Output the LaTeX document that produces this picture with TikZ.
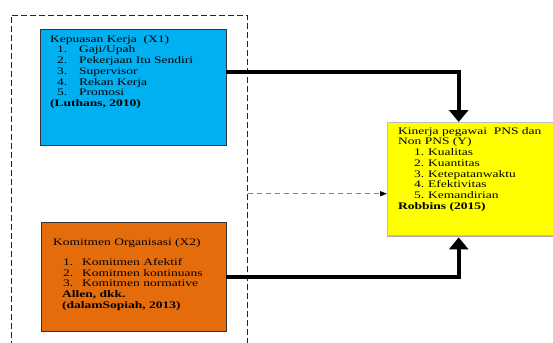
\documentclass[tikz,border=0pt]{standalone}
\usepackage{fontspec}
\setmainfont{Liberation Serif}[FakeStretch=1.35]
\usetikzlibrary{arrows.meta}

\definecolor{kotakbiru}{HTML}{00B0F0}
\definecolor{kotakoranye}{HTML}{E46C0A}
\definecolor{kotakkuning}{HTML}{FFFF00}
\definecolor{bayangan}{HTML}{BFA3AD}
\newcommand{\butir}[4]{\hspace*{#1}\makebox[#2][l]{#3}#4}

\begin{document}
\begin{tikzpicture}[x=1pt, y=-1pt,
  kotak/.style={draw, anchor=north west, inner sep=0pt},
  isi/.style={anchor=north west, inner sep=0pt, align=left, font=\fontsize{10}{10.75}\selectfont},
  panah/.style={line width=4pt, -{Triangle[width=19pt,length=12pt]}}]

\useasboundingbox (0,0) rectangle (553,342);

\node[kotak, dash pattern=on 6pt off 3pt, draw=black!85, line width=0.8pt, minimum width=236pt, minimum height=345pt] (bingkai) at (11,15) {};

\node[kotak, fill=kotakbiru, draw=black!80, minimum width=186pt, minimum height=116pt] (x1) at (40,29) {};
\node[isi] (x1isi) at ([shift={(10pt,-6pt)}]x1.north west) {Kepuasan Kerja \ (X1)\\
  \butir{7pt}{22pt}{1.}{Gaji/Upah}\\
  \butir{7pt}{22pt}{2.}{Pekerjaan Itu Sendiri}\\
  \butir{7pt}{22pt}{3.}{Supervisor}\\
  \butir{7pt}{22pt}{4.}{Rekan Kerja}\\
  \butir{7pt}{22pt}{5.}{Promosi}\\
  \textbf{(Luthans, 2010)}};

\node[kotak, fill=kotakoranye, draw=black!80, minimum width=185pt, minimum height=109pt] (x2) at (41,222) {};
\node[isi] (x2isi) at ([shift={(12pt,-16pt)}]x2.north west) {Komitmen Organisasi (X2)\\[9.5pt]
  \butir{10pt}{19pt}{1.}{Komitmen Afektif}\\
  \butir{10pt}{19pt}{2.}{Komitmen kontinuans}\\
  \butir{10pt}{19pt}{3.}{Komitmen normative}\\
  \hspace*{9pt}\textbf{Allen, dkk.}\\
  \hspace*{9pt}\textbf{(dalamSopiah, 2013)}};

\node[kotak, fill=kotakkuning, draw=black!25, minimum width=169pt, minimum height=113pt] (y) at (387,122) {};
\draw[bayangan, line width=1.5pt] ([yshift=-1pt]y.south west) -- ([yshift=-1pt]y.south east);
\node[isi] (yisi) at ([shift={(11pt,-5pt)}]y.north west) {Kinerja pegawai \ PNS dan\\
  Non PNS (Y)\\
  \butir{16pt}{14pt}{1.}{Kualitas}\\
  \butir{16pt}{14pt}{2.}{Kuantitas}\\
  \butir{16pt}{14pt}{3.}{Ketepatanwaktu}\\
  \butir{16pt}{14pt}{4.}{Efektivitas}\\
  \butir{16pt}{14pt}{5.}{Kemandirian}\\
  \textbf{Robbins (2015)}};

\draw[panah] ([yshift=15pt]x1.east) -| ([xshift=-13pt]y.north);
\draw[panah] (x2.east) -| ([xshift=-13pt,yshift=-2pt]y.south);

\coordinate (ujungputus) at ([yshift=-15pt]y.west);
\draw[black!50, line width=1.2pt, dash pattern=on 5pt off 4pt, -{Triangle[width=5pt,length=7pt,black]}] (ujungputus -| bingkai.east) -- (ujungputus);

\end{tikzpicture}
\end{document}
